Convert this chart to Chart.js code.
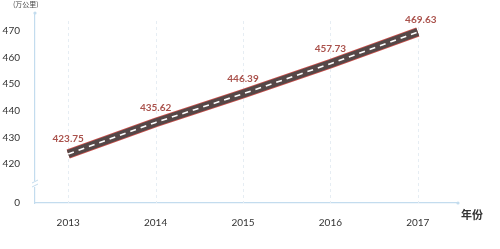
<!DOCTYPE html>
<html>
<head>
<meta charset="utf-8">
<script src="https://cdn.jsdelivr.net/npm/chart.js@4/dist/chart.umd.min.js"></script>
<style>
  body { margin: 0; background: #fff; }
  #wrap { position: relative; width: 500px; height: 249px; }
</style>
</head>
<body>
<div id="wrap"><canvas id="LineChart" width="500" height="249"></canvas></div>
<script>
const years = [2013, 2014, 2015, 2016, 2017];
const mileage = [423.75, 435.62, 446.39, 457.73, 469.63];
const yTicks = [420, 430, 440, 450, 460, 470];
const yBase = 405.3; // where "0" sits on the broken axis

const axisColor = "#c3dcee";
const labelColor = "#aa524c";

// overlay: unit labels, axis break, end dots, value labels
const extras = {
  id: "extras",
  afterDatasetsDraw(chart) {
    const c = chart.ctx;
    const x = chart.scales.x, y = chart.scales.y;
    const left = chart.chartArea.left, bottom = chart.chartArea.bottom;
    c.save();
    // axis end dots
    c.fillStyle = axisColor;
    c.beginPath(); c.arc(left, chart.chartArea.top, 1.6, 0, Math.PI * 2); c.fill();
    c.beginPath(); c.arc(chart.chartArea.right, bottom, 1.6, 0, Math.PI * 2); c.fill();
    // axis break mark
    const by = 184;
    c.fillStyle = "#fff";
    c.fillRect(left - 3, by - 3, 6, 6);
    c.strokeStyle = axisColor;
    c.lineWidth = 1;
    c.beginPath(); c.moveTo(left - 3, by - 1); c.lineTo(left + 3, by - 4); c.stroke();
    c.beginPath(); c.moveTo(left - 3, by + 3); c.lineTo(left + 3, by); c.stroke();
    // value labels
    c.font = "bold 10px Lato, 'Open Sans', sans-serif";
    c.fillStyle = labelColor;
    c.textAlign = "center";
    c.textBaseline = "middle";
    years.forEach((yr, i) => {
      const last = i === years.length - 1;
      c.fillText(mileage[i].toFixed(2), x.getPixelForValue(yr) + (last ? 3 : 0), y.getPixelForValue(mileage[i]) - (last ? 12 : 15));
    });
    // unit labels
    c.fillStyle = "#444";
    c.font = "7px 'Noto Sans CJK SC', sans-serif";
    c.textAlign = "left";
    c.fillText("(万公里)", 13, 4);
    c.font = "bold 11px 'Noto Sans CJK SC', sans-serif";
    c.fillStyle = "#333";
    c.fillText("年份", 461, 215);
    c.restore();
  }
};

const pts = () => years.map((yr, i) => ({ x: yr, y: mileage[i] }));

new Chart(document.getElementById("LineChart").getContext("2d"), {
  type: "line",
  data: {
    datasets: [
      // lower "order" draws on top
      { data: pts(), order: 3, borderColor: "#c9504c", borderWidth: 9.5, pointRadius: 0, tension: 0, borderCapStyle: "butt" },
      { data: pts(), order: 2, borderColor: "#554747", borderWidth: 8, pointRadius: 0, tension: 0, borderCapStyle: "butt" },
      { data: pts(), order: 1, borderColor: "#ffffff", borderWidth: 1.6, borderDash: [6, 5], pointRadius: 0, tension: 0 },
    ],
  },
  options: {
    responsive: false,
    animation: false,
    layout: { padding: { top: 12, right: 42, left: 0, bottom: 0 } },
    plugins: { legend: { display: false }, tooltip: { enabled: false } },
    scales: {
      x: {
        type: "linear",
        min: 2012.62,
        max: 2017.46,
        afterBuildTicks: (s) => { s.ticks = years.map((v) => ({ value: v })); },
        afterFit: (s) => { s.height = 46; },
        ticks: {
          callback: (v) => String(v),
          color: "#333",
          font: { family: "Lato, 'Open Sans', sans-serif", size: 10 },
          padding: 6,
          maxRotation: 0,
        },
        grid: { display: false },
        border: { color: axisColor, width: 1.2 },
      },
      y: {
        min: yBase,
        max: 476.8,
        afterBuildTicks: (s) => { s.ticks = [yBase, ...yTicks].map((v) => ({ value: v })); },
        afterFit: (s) => { s.width = 35; },
        ticks: {
          callback: (v) => (v === yBase ? "0" : String(v)),
          color: "#333",
          font: { family: "Lato, 'Open Sans', sans-serif", size: 10 },
          padding: 7,
        },
        grid: { display: false },
        border: { color: axisColor, width: 1.2 },
      },
    },
  },
  plugins: [
    {
      id: "vgrid",
      beforeDatasetsDraw(chart) {
        const c = chart.ctx, x = chart.scales.x, a = chart.chartArea;
        c.save();
        c.strokeStyle = "#e6edf3";
        c.lineWidth = 1;
        c.setLineDash([3, 3]);
        years.forEach((yr) => {
          const px = Math.round(x.getPixelForValue(yr)) + 0.5;
          c.beginPath(); c.moveTo(px, a.top + 8); c.lineTo(px, a.bottom); c.stroke();
        });
        c.restore();
      },
    },
    extras,
  ],
});
</script>
</body>
</html>
